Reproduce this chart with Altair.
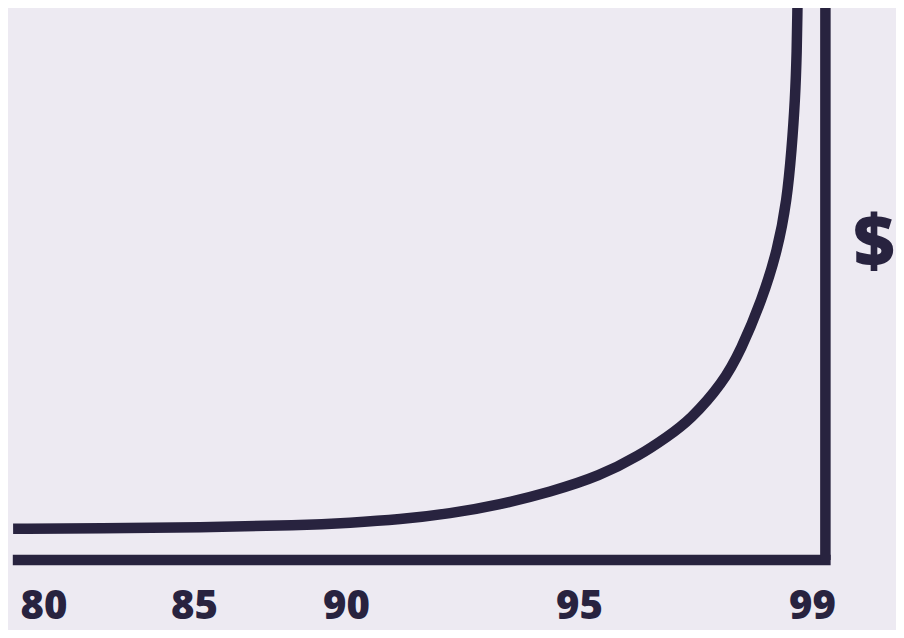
import altair as alt
import pandas as pd

# ---- data ----
tick_values = [80, 85, 90, 95, 99]
uptime = [78.99, 81.88, 85.20, 88.49, 90.09, 91.16, 92.23, 93.30, 94.38, 95.36, 96.05,
          96.51, 96.91, 97.47, 97.78, 98.14, 98.41, 98.57, 98.65, 98.71, 98.74, 98.75]
cost = [5.67, 5.72, 5.87, 6.30, 6.74, 7.34, 8.39, 10.02, 12.32, 15.22, 19.02,
        22.28, 25.36, 32.07, 38.04, 47.10, 56.16, 65.22, 74.28, 83.33, 92.39, 100]
x_axis_span = [78.98, 99.32]
y_axis_at = 99.23
y_axis_span = [0, 100]
y_label = ["$"]

INK = "#28233F"
BG = "#EDEAF2"
FONT = "Open Sans"

curve = pd.DataFrame({"uptime": uptime, "cost": cost})
hline = pd.DataFrame({"uptime": [x_axis_span[0]], "uptime2": [x_axis_span[1]], "cost": [0]})
vline = pd.DataFrame({"uptime": [y_axis_at], "cost": [y_axis_span[0]], "cost2": [y_axis_span[1]]})
ylab = pd.DataFrame({"t": y_label})

xscale = alt.Scale(domain=tick_values, range=[35.5, 186, 338, 571, 804], nice=False, zero=False)
yscale = alt.Scale(domain=[0, 100], range=[552, 0], nice=False, zero=False)

xaxis = alt.Axis(values=tick_values, domain=False, ticks=False, tickSize=0, grid=False,
                 labelFont=FONT, labelFontWeight=800, labelFontSize=40,
                 labelColor=INK, labelPadding=-12, labelBaseline="alphabetic",
                 labelFlush=False, labelOverlap=False, title=None)

X = alt.X("uptime:Q", scale=xscale, axis=xaxis)
Y = alt.Y("cost:Q", scale=yscale, axis=None)

line = alt.Chart(curve).mark_line(color=INK, strokeWidth=10.5, interpolate="basis",
                                  strokeCap="butt").encode(x=X, y=Y)

h = alt.Chart(hline).mark_rule(color=INK, strokeWidth=10.5, strokeCap="butt").encode(
    x=X, x2="uptime2:Q", y=Y)

v = alt.Chart(vline).mark_rule(color=INK, strokeWidth=10.5, strokeCap="butt").encode(
    x=X, y=Y, y2="cost2:Q")

t = alt.Chart(ylab).mark_text(font=FONT, fontWeight=800, fontSize=72, color=INK,
                              align="center", baseline="alphabetic").encode(
    text="t:N", x=alt.value(866), y=alt.value(259))

chart = alt.layer(h, v, line, t).properties(
    width=888, height=622,
    autosize=alt.AutoSizeParams(type="none"),
    padding=0,
    background=BG,
).configure_view(strokeWidth=0)

chart.save("out.html", embed_options={"renderer": "svg", "actions": False})
